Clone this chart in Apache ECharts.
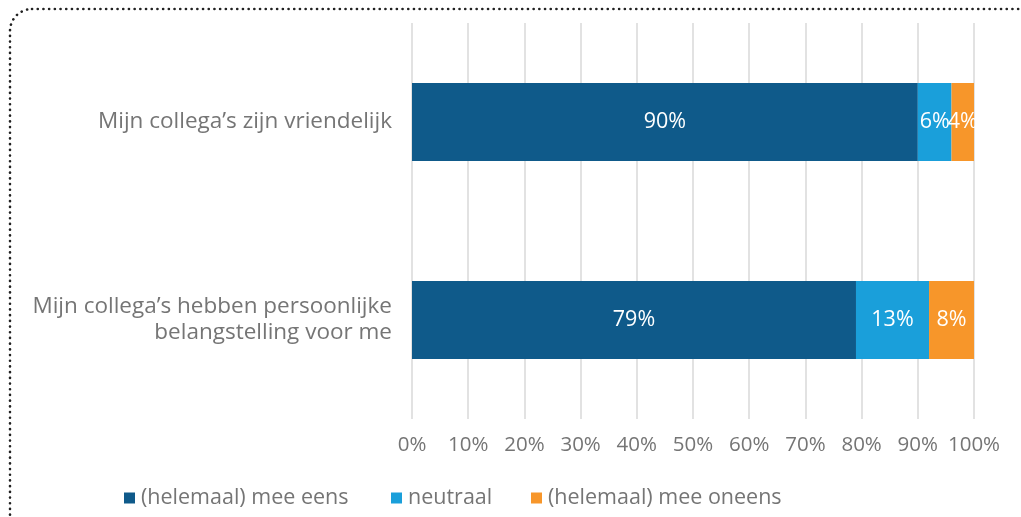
<!DOCTYPE html>
<html>
<head>
<meta charset="utf-8">
<script src="https://cdn.jsdelivr.net/npm/echarts@6/dist/echarts.min.js"></script>
<style>
  html, body { margin: 0; padding: 0; background: #fff; }
  #chart { width: 1021px; height: 517px; }
</style>
</head>
<body>
<div id="chart"></div>
<script>
const categories = [
  'Mijn collega\u2019s zijn vriendelijk',
  'Mijn collega\u2019s hebben persoonlijke\nbelangstelling voor me'
];
const seriesNames = ['(helemaal) mee eens', 'neutraal', '(helemaal) mee oneens'];
const eens = [90, 79];
const neutraal = [6, 13];
const oneens = [4, 8];
const colors = ['#0f5a8a', '#1a9fda', '#f7962a'];

const font = 'Open Sans';
const grey = '#757575';

const myChart = echarts.init(document.getElementById('chart'));

const makeSeries = (name, data, color) => ({
  name: name,
  type: 'bar',
  stack: 'total',
  data: data,
  barWidth: 78,
  itemStyle: { color: color },
  label: {
    show: true,
    position: 'inside',
    color: '#fff',
    fontFamily: font,
    fontSize: 21.5,
    formatter: (p) => p.value + '%'
  }
});

// one legend per item, placed where the original puts them
const legendLeft = [124, 391, 531];
const legends = seriesNames.map((n, i) => ({
  left: legendLeft[i],
  top: 487,
  padding: 0,
  itemWidth: 11,
  itemHeight: 11,
  icon: 'rect',
  textStyle: { color: grey, fontSize: 21.5, fontFamily: font, padding: [0, 0, 0, 1] },
  data: [n]
}));

const option = {
  animation: false,
  color: colors,
  textStyle: { fontFamily: font },
  graphic: [{
    type: 'rect',
    shape: { x: 10, y: 9, width: 1200, height: 700, r: 22 },
    style: { fill: 'none', stroke: '#222', lineWidth: 2.6, lineDash: [0.1, 5.6], lineCap: 'round' },
    silent: true,
    z: -1
  }],
  legend: legends,
  grid: { left: 412, right: 47, top: 23, bottom: 98, containLabel: false },
  xAxis: {
    type: 'value',
    min: 0,
    max: 100,
    interval: 10,
    axisLine: { show: false },
    axisTick: { show: false },
    splitLine: { lineStyle: { color: '#d9d9d9', width: 1.5 } },
    axisLabel: {
      color: grey,
      fontSize: 20.5,
      fontFamily: font,
      margin: 16,
      formatter: (v) => v + '%'
    }
  },
  yAxis: {
    type: 'category',
    inverse: true,
    data: categories,
    axisLine: { show: false },
    axisTick: { show: false },
    axisLabel: {
      color: grey,
      fontSize: 22.5,
      fontFamily: font,
      margin: 20,
      lineHeight: 26,
      align: 'right'
    }
  },
  series: [
    makeSeries(seriesNames[0], eens, colors[0]),
    makeSeries(seriesNames[1], neutraal, colors[1]),
    makeSeries(seriesNames[2], oneens, colors[2])
  ]
};

myChart.setOption(option);
</script>
</body>
</html>
